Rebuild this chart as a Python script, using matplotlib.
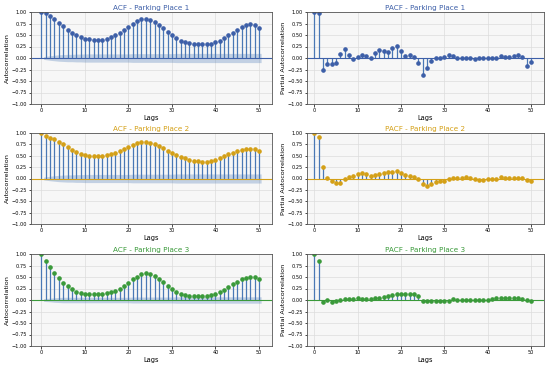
import numpy as np
import matplotlib
matplotlib.use("Agg")
import matplotlib.pyplot as plt

lags = list(range(51))

acf1 = [1.0, 0.97, 0.91, 0.85, 0.77, 0.69, 0.61, 0.54, 0.49, 0.45, 0.42, 0.41, 0.40, 0.40, 0.40, 0.42,
        0.45, 0.49, 0.54, 0.60, 0.67, 0.74, 0.80, 0.84, 0.85, 0.83, 0.78, 0.72, 0.65, 0.57, 0.50,
        0.43, 0.38, 0.34, 0.32, 0.31, 0.30, 0.30, 0.30, 0.31, 0.34, 0.38, 0.43, 0.49, 0.55, 0.61,
        0.67, 0.71, 0.73, 0.71, 0.66]
pacf1 = [1.0, 0.97, -0.27, -0.14, -0.12, -0.10, 0.08, 0.19, 0.07, -0.03, 0.02, 0.06, 0.04, -0.01, 0.11,
         0.17, 0.16, 0.12, 0.21, 0.26, 0.15, 0.05, 0.07, 0.02, -0.10, -0.37, -0.21, -0.07, -0.01, 0.0,
         0.03, 0.07, 0.04, 0.0, 0.0, -0.01, 0.0, -0.03, 0.0, 0.01, 0.01, -0.01, 0.01, 0.04, 0.02, 0.02,
         0.04, 0.06, 0.02, -0.18, -0.09]
acf2 = [1.0, 0.93, 0.90, 0.86, 0.81, 0.75, 0.69, 0.63, 0.58, 0.54, 0.52, 0.50, 0.49, 0.49, 0.50, 0.52,
        0.54, 0.57, 0.61, 0.65, 0.69, 0.73, 0.77, 0.80, 0.80, 0.79, 0.75, 0.71, 0.66, 0.61, 0.56,
        0.52, 0.48, 0.44, 0.41, 0.39, 0.38, 0.37, 0.37, 0.39, 0.41, 0.45, 0.49, 0.53, 0.56, 0.60,
        0.63, 0.65, 0.65, 0.64, 0.61]
pacf2 = [1.0, 0.92, 0.26, 0.02, -0.06, -0.09, -0.10, -0.02, 0.04, 0.06, 0.10, 0.11, 0.10, 0.05, 0.07,
         0.09, 0.13, 0.15, 0.15, 0.16, 0.12, 0.08, 0.06, 0.03, -0.01, -0.12, -0.16, -0.12, -0.08, -0.06,
         -0.05, -0.02, 0.01, 0.01, 0.01, 0.03, 0.01, -0.02, -0.03, -0.04, 0.0, -0.01, 0.0, 0.03, 0.02,
         0.02, 0.02, 0.02, 0.02, -0.04, -0.05]
acf3 = [1.0, 0.85, 0.71, 0.59, 0.48, 0.38, 0.30, 0.23, 0.18, 0.15, 0.14, 0.13, 0.13, 0.13, 0.14, 0.15,
        0.17, 0.20, 0.25, 0.31, 0.38, 0.45, 0.51, 0.56, 0.58, 0.57, 0.52, 0.46, 0.39, 0.31, 0.24,
        0.18, 0.14, 0.11, 0.09, 0.08, 0.08, 0.08, 0.09, 0.10, 0.13, 0.17, 0.22, 0.28, 0.34, 0.40,
        0.45, 0.48, 0.50, 0.49, 0.45]
pacf3 = [1.0, 0.85, -0.04, 0.0, -0.04, -0.03, 0.0, 0.02, 0.02, 0.02, 0.04, 0.03, 0.02, 0.02, 0.04,
         0.04, 0.06, 0.08, 0.10, 0.13, 0.13, 0.12, 0.12, 0.12, 0.08, -0.03, -0.02, -0.02, -0.03, -0.03,
         -0.03, -0.03, 0.02, 0.0, -0.01, -0.01, 0.0, -0.01, 0.01, 0.01, 0.0, 0.02, 0.04, 0.05, 0.05,
         0.05, 0.05, 0.04, 0.03, -0.01, -0.02]

# confidence band half-widths for lags 1..50
band1 = [0.03, 0.05, 0.06, 0.07, 0.075, 0.08, 0.08, 0.085, 0.085, 0.09] + [0.09] * 10 + [0.095] * 10 + [0.1] * 20
band2 = [0.03, 0.05, 0.06, 0.07, 0.075, 0.08, 0.08, 0.085, 0.085, 0.09] + [0.09] * 10 + [0.095] * 10 + [0.1] * 20
band3 = [0.03, 0.04, 0.05, 0.055, 0.06, 0.06, 0.06, 0.06, 0.06, 0.06] + [0.06] * 10 + [0.065] * 10 + [0.07] * 20

titles = ["Parking Place 1", "Parking Place 2", "Parking Place 3"]
colors = ["#3d5fa8", "#d4a017", "#3a9a3a"]
stem_color = "#4a78b5"

W, H = 550, 367
dpi = 100
fig = plt.figure(figsize=(W / dpi, H / dpi), dpi=dpi)

col_x = [(31, 272), (307, 544)]
row_y = [(12, 104), (133, 224), (254, 346)]

def make_ax(c, r):
    x0, x1 = col_x[c]
    y0, y1 = row_y[r]
    return fig.add_axes([x0 / W, 1 - y1 / H, (x1 - x0) / W, (y1 - y0) / H])

def style(ax, ylabel):
    ax.set_facecolor("#f7f7f7")
    ax.grid(True, color="#dcdcdc", linewidth=0.5)
    ax.set_axisbelow(True)
    ax.set_ylim(-1, 1)
    ax.set_yticks(np.arange(-1, 1.01, 0.25))
    ax.set_yticklabels([f"{v:.2f}".replace("-", "\u2212") for v in np.arange(-1, 1.01, 0.25)])
    ax.set_xticks([0, 10, 20, 30, 40, 50])
    ax.tick_params(labelsize=3.6, length=1.8, width=0.5, pad=1.2)
    for s in ax.spines.values():
        s.set_color("#555555")
        s.set_linewidth(0.6)
    ax.set_xlabel("Lags", fontsize=4.8, labelpad=1.0)
    ax.set_ylabel(ylabel, fontsize=4.6, labelpad=1.0)

acfs = [acf1, acf2, acf3]
pacfs = [pacf1, pacf2, pacf3]
bands = [band1, band2, band3]

for r in range(3):
    col = colors[r]
    # ACF
    ax = make_ax(0, r)
    style(ax, "Autocorrelation")
    b = np.array(bands[r])
    lx = np.array(lags[1:], dtype=float)
    lx_band = lx.copy()
    lx_band[0] -= 0.5
    lx_band[-1] += 0.5
    ax.fill_between(lx_band, -b, b, color=stem_color, alpha=0.3, linewidth=0)
    ax.vlines(lags, 0, acfs[r], color=stem_color, linewidth=0.9)
    ax.axhline(0, color=col, linewidth=0.8)
    ax.plot(lags, acfs[r], "o", color=col, markersize=2.3)
    ax.set_xlim(-2.4, 53)
    ax.set_title(f"ACF - {titles[r]}", color=col, fontsize=5.2, pad=1.5)
    # PACF
    ax = make_ax(1, r)
    style(ax, "Partial Autocorrelation")
    ax.vlines(lags, 0, pacfs[r], color=stem_color, linewidth=0.9)
    ax.axhline(0, color=col, linewidth=0.8)
    ax.plot(lags, pacfs[r], "o", color=col, markersize=2.3)
    ax.set_xlim(-1.7, 53)
    ax.set_title(f"PACF - {titles[r]}", color=col, fontsize=5.2, pad=1.5)

fig.savefig("out.png", dpi=dpi)
